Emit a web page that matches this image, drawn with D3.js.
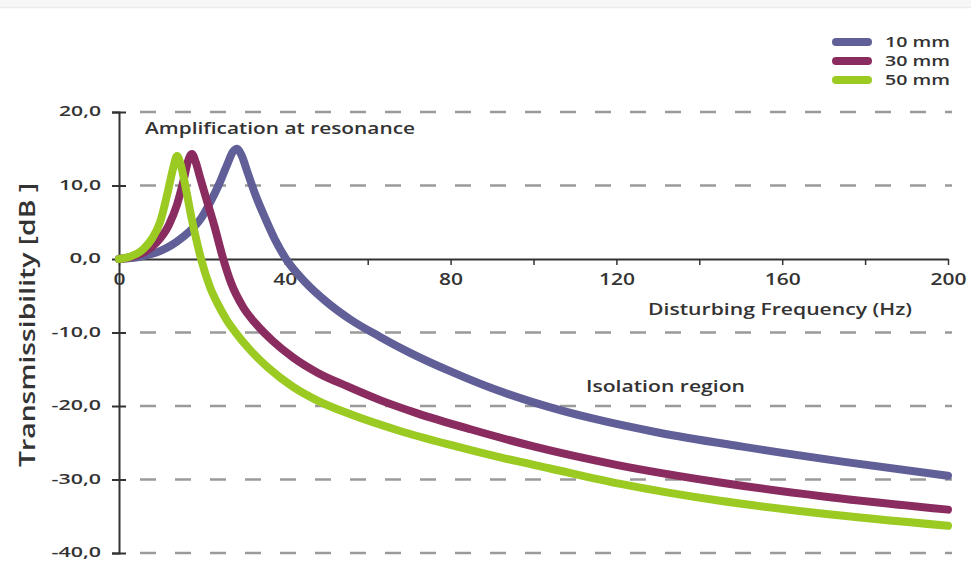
<!DOCTYPE html>
<html>
<head>
<meta charset="utf-8">
<script src="https://cdn.jsdelivr.net/npm/d3@7"></script>
<style>
  html, body { margin: 0; padding: 0; background: #fff; }
  svg { display: block; }
  text { font-family: "Open Sans", "DejaVu Sans", sans-serif; fill: #333; }
</style>
</head>
<body>
<svg id="chart" width="971" height="561"></svg>
<script>
// ---- Data ----
const seriesNames = ["10 mm", "30 mm", "50 mm"];
const seriesColors = ["#605f97", "#8b2c60", "#9bcb22"];

const freq10 = [0, 5, 10, 15, 20, 22, 24, 26, 27.5, 28.5, 29.5, 31, 33, 35, 37.5, 40.3, 45, 50, 56, 63, 70, 80, 90, 100, 115, 130, 150, 175, 200];
const db10   = [0, 0.3, 1.1, 2.8, 5.7, 7.7, 10.0, 12.7, 14.6, 15.0, 14.2, 11.8, 8.6, 5.9, 2.8, 0, -3.2, -5.8, -8.3, -10.6, -12.7, -15.3, -17.6, -19.5, -21.8, -23.6, -25.5, -27.6, -29.5];

const freq30 = [0, 3, 6, 9, 12, 14, 15.5, 16.7, 17.6, 18.5, 19.5, 21, 23, 25, 27, 30, 33, 37, 42, 48, 55, 63, 72, 85, 100, 120, 145, 170, 200];
const db30   = [0, 0.3, 0.9, 2.2, 4.6, 7.4, 10.5, 13.4, 14.3, 13.2, 11.2, 8.3, 4.5, 0.3, -3.2, -6.6, -8.8, -11.1, -13.4, -15.5, -17.3, -19.2, -21.0, -23.2, -25.5, -28.0, -30.4, -32.3, -34.1];

const freq50 = [0, 2.6, 5.8, 8, 9.9, 11.8, 13, 14, 15, 16.4, 17.6, 18.8, 19.8, 22, 24, 26, 28, 32, 36, 42, 48, 55.7, 67.8, 80, 92, 104, 121, 145, 169, 200];
const db50   = [0, 0.3, 1.3, 2.8, 5.0, 9.2, 12.2, 14.0, 12.6, 8.8, 5.3, 2.3, 0, -3.9, -6.3, -8.3, -9.9, -12.6, -14.8, -17.4, -19.3, -21.1, -23.4, -25.3, -27.0, -28.5, -30.6, -32.9, -34.6, -36.3];

const xTickValues = [0, 20, 40, 60, 80, 100, 120, 140, 160, 180, 200];
const xTickLabels = ["0", "40", "80", "120", "160", "200"];
const yTickValues = [20, 10, 0, -10, -20, -30, -40];
const yTickLabels = ["20,0", "10,0", "0,0", "-10,0", "-20,0", "-30,0", "-40,0"];

const series = [
  { name: seriesNames[0], color: seriesColors[0], pts: freq10.map((f, i) => [f, db10[i]]) },
  { name: seriesNames[1], color: seriesColors[1], pts: freq30.map((f, i) => [f, db30[i]]) },
  { name: seriesNames[2], color: seriesColors[2], pts: freq50.map((f, i) => [f, db50[i]]) }
];

// ---- Layout ----
const svg = d3.select("#chart");
const x = d3.scaleLinear().domain([0, 200]).range([119, 948]);
const y = d3.scaleLinear().domain([-40, 20]).range([553, 112]);

// faint top border
svg.append("rect").attr("x", 0).attr("y", 0).attr("width", 971).attr("height", 7).attr("fill", "#f7f7f7");
svg.append("line").attr("x1", 0).attr("x2", 971).attr("y1", 7.5).attr("y2", 7.5)
  .attr("stroke", "#ececec").attr("stroke-width", 1.5);

// dashed gridlines
svg.append("g").selectAll("line")
  .data(yTickValues.filter(v => v !== 0))
  .join("line")
  .attr("x1", 140).attr("x2", 952)
  .attr("y1", d => y(d)).attr("y2", d => y(d))
  .attr("stroke", "#9a9a9a").attr("stroke-width", 2.5)
  .attr("stroke-dasharray", "16,19");

// y axis
const yAxis = d3.axisLeft(y).tickValues(yTickValues)
  .tickFormat((d, i) => yTickLabels[i]).tickSize(7).tickPadding(11);
const gy = svg.append("g").attr("transform", `translate(${x(0)},0)`).call(yAxis);
gy.select(".domain").attr("stroke", "#333").attr("stroke-width", 2);
gy.selectAll(".tick line").attr("stroke", "#333").attr("stroke-width", 2).attr("x2", 7).attr("x1", -7);
gy.selectAll(".tick text")
  .style("font-family", '"Open Sans", sans-serif')
  .style("font-size", "15px").style("font-weight", 600).attr("fill", "#333")
  .attr("dy", "0.26em")
  .attr("textLength", d => { const s = yTickLabels[yTickValues.indexOf(d)]; return s.length * 10.5 + (s[0] === "-" ? -3 : 0); })
  .attr("lengthAdjust", "spacingAndGlyphs");

// x axis at y = 0
const xAxis = d3.axisBottom(x).tickValues(xTickValues)
  .tickFormat(d => (d % 40 === 0 ? xTickLabels[d / 40] : "")).tickSizeInner(6).tickSizeOuter(0).tickPadding(9);
const gx = svg.append("g").attr("transform", `translate(0,${y(0)})`).call(xAxis);
gx.select(".domain").attr("stroke", "#333").attr("stroke-width", 2);
gx.selectAll(".tick line").attr("stroke", "#333").attr("stroke-width", 1.5);
gx.selectAll(".tick text")
  .style("font-family", '"Open Sans", sans-serif')
  .style("font-size", "16px").style("font-weight", 600).attr("fill", "#333")
  .filter(d => d % 40 === 0)
  .attr("textLength", d => xTickLabels[d / 40].length * 12)
  .attr("lengthAdjust", "spacingAndGlyphs");

// curves
const line = d3.line().x(d => x(d[0])).y(d => y(d[1])).curve(d3.curveMonotoneX);
svg.append("g").selectAll("path")
  .data(series)
  .join("path")
  .attr("d", d => line(d.pts))
  .attr("fill", "none")
  .attr("stroke", d => d.color)
  .attr("stroke-width", 8)
  .attr("stroke-linecap", "round")
  .attr("stroke-linejoin", "round");

// annotations
function label(txt, xx, yy, size, len, anchor) {
  const t = svg.append("text").attr("x", xx).attr("y", yy)
    .style("font-size", size + "px").style("font-weight", 600)
    .attr("text-anchor", anchor || "start").text(txt);
  if (len) t.attr("textLength", len).attr("lengthAdjust", "spacingAndGlyphs");
  return t;
}
label("Amplification at resonance", 145, 134, 17, 270);
label("Disturbing Frequency (Hz)", 648, 315, 17, 264);
label("Isolation region", 586, 392, 17, 159);

// y-axis title
svg.append("text")
  .attr("transform", "translate(35,325) rotate(-90)")
  .attr("text-anchor", "middle")
  .style("font-size", "22px").style("font-weight", 600)
  .attr("textLength", 284).attr("lengthAdjust", "spacingAndGlyphs")
  .text("Transmissibility [dB ]");

// legend
const lg = svg.append("g");
series.forEach((s, i) => {
  const yy = 42 + i * 19;
  lg.append("line").attr("x1", 836).attr("x2", 868).attr("y1", yy).attr("y2", yy)
    .attr("stroke", s.color).attr("stroke-width", 8).attr("stroke-linecap", "round");
  lg.append("text").attr("x", 885).attr("y", yy + 5)
    .style("font-size", "14px").style("font-weight", 600)
    .attr("textLength", 65).attr("lengthAdjust", "spacingAndGlyphs")
    .text(s.name);
});
</script>
</body>
</html>
